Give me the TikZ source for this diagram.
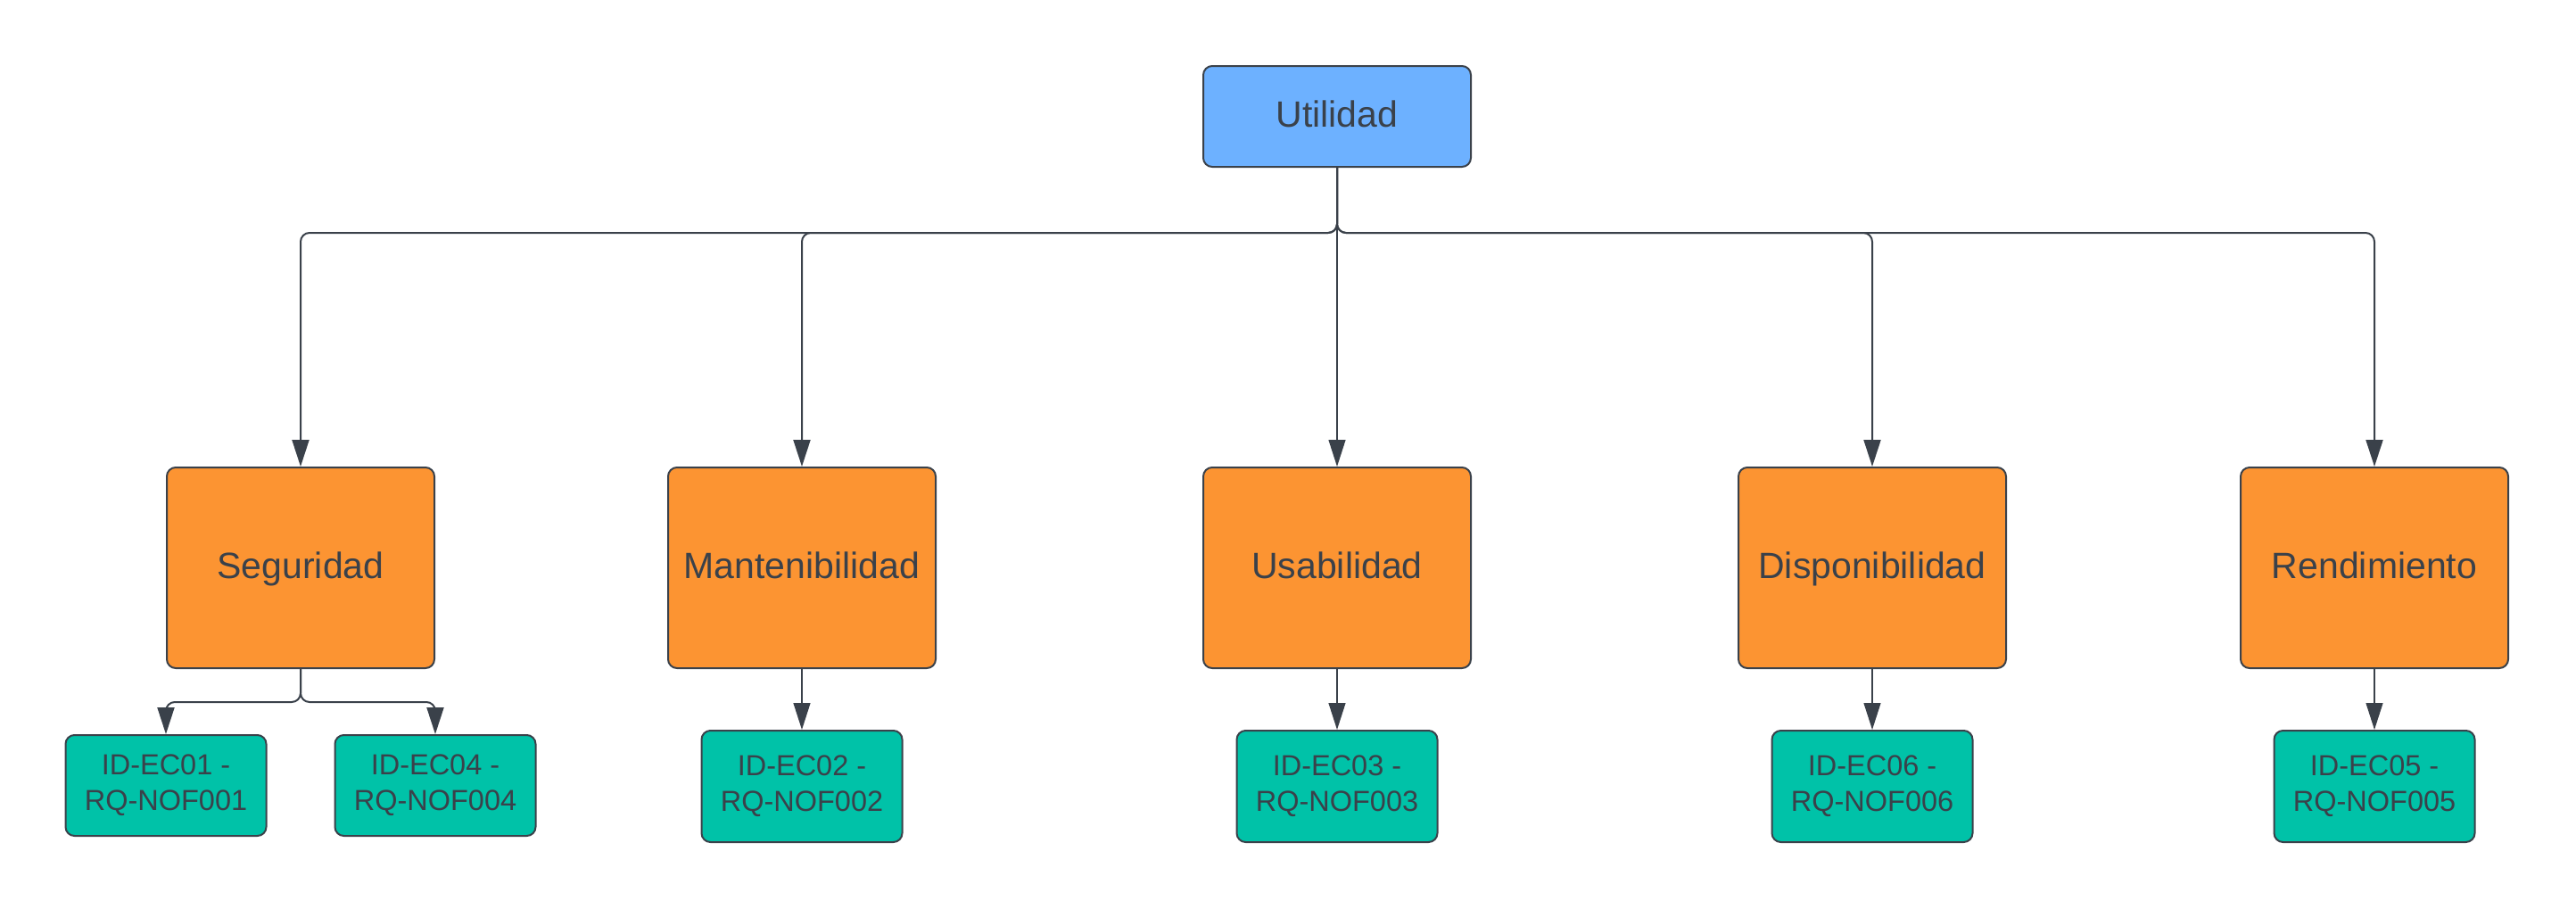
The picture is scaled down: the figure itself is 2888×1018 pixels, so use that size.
\documentclass[tikz,border=0pt]{standalone}
\usepackage{fontspec}
\setmainfont{Liberation Sans}
\usetikzlibrary{positioning,arrows.meta}
\definecolor{ink}{HTML}{3A414A}
\definecolor{skyblue}{HTML}{6DB1FF}
\definecolor{tangerine}{HTML}{FC9432}
\definecolor{teal2}{HTML}{00C2A8}

\begin{document}
\begin{tikzpicture}[x=1pt,y=1pt,
  box/.style={draw=ink,line width=2pt,rounded corners=10pt,inner sep=0pt,text=ink},
  topbox/.style={box,fill=skyblue,minimum width=300pt,minimum height=113pt,font=\fontsize{41}{49}\selectfont,text height=30pt,text depth=6pt},
  attrbox/.style={box,fill=tangerine,minimum width=300pt,minimum height=225pt,font=\fontsize{41}{49}\selectfont,text height=30pt,text depth=6pt},
  reqbox/.style={box,fill=teal2,minimum width=225pt,minimum height=125pt,align=center,font=\fontsize{32.5}{40}\selectfont},
  branch/.style={draw=ink,line width=2pt,rounded corners=10pt,-{Triangle[length=30pt,width=19pt]}},
  straight/.style={branch,line width=1.3pt}]
\useasboundingbox[fill=white] (0,0) rectangle (2888,-1018);

\node [topbox] (util) at (1499,-130.5) {Utilidad};
\node [attrbox, below = 335pt of util] (usab) {Usabilidad};
\node [attrbox, left = 298pt of usab] (mant) {Mantenibilidad};
\node [attrbox, left = 260pt of mant] (seg) {Seguridad};
\node [attrbox, right = 298pt of usab] (disp) {Disponibilidad};
\node [attrbox, right = 261pt of disp] (rend) {Rendimiento};
\node [reqbox, minimum height = 113pt, below = 73pt of seg.south west] (ec01) {ID-EC01 -\\RQ-NOF001};
\node [reqbox, minimum height = 113pt, below = 73pt of seg.south east] (ec04) {ID-EC04 -\\RQ-NOF004};
\node [reqbox, below = 68pt of mant] (ec02) {ID-EC02 -\\RQ-NOF002};
\node [reqbox, below = 68pt of usab] (ec03) {ID-EC03 -\\RQ-NOF003};
\node [reqbox, below = 68pt of disp] (ec06) {ID-EC06 -\\RQ-NOF006};
\node [reqbox, below = 68pt of rend] (ec05) {ID-EC05 -\\RQ-NOF005};
\coordinate [below = 73pt of util] (bus);
\coordinate [below = 37pt of seg] (segbus);

\draw [branch] (util) -- (bus) -| (seg);
\draw [branch] (util) -- (bus) -| (mant);
\draw [straight] (util) -- (usab);
\draw [branch] (util) -- (bus) -| (disp);
\draw [branch] (util) -- (bus) -| (rend);
\draw [branch] (seg) -- (segbus) -| (ec01);
\draw [branch] (seg) -- (segbus) -| (ec04);
\draw [straight] (mant) -- (ec02);
\draw [straight] (usab) -- (ec03);
\draw [straight] (disp) -- (ec06);
\draw [straight] (rend) -- (ec05);
\end{tikzpicture}
\end{document}
